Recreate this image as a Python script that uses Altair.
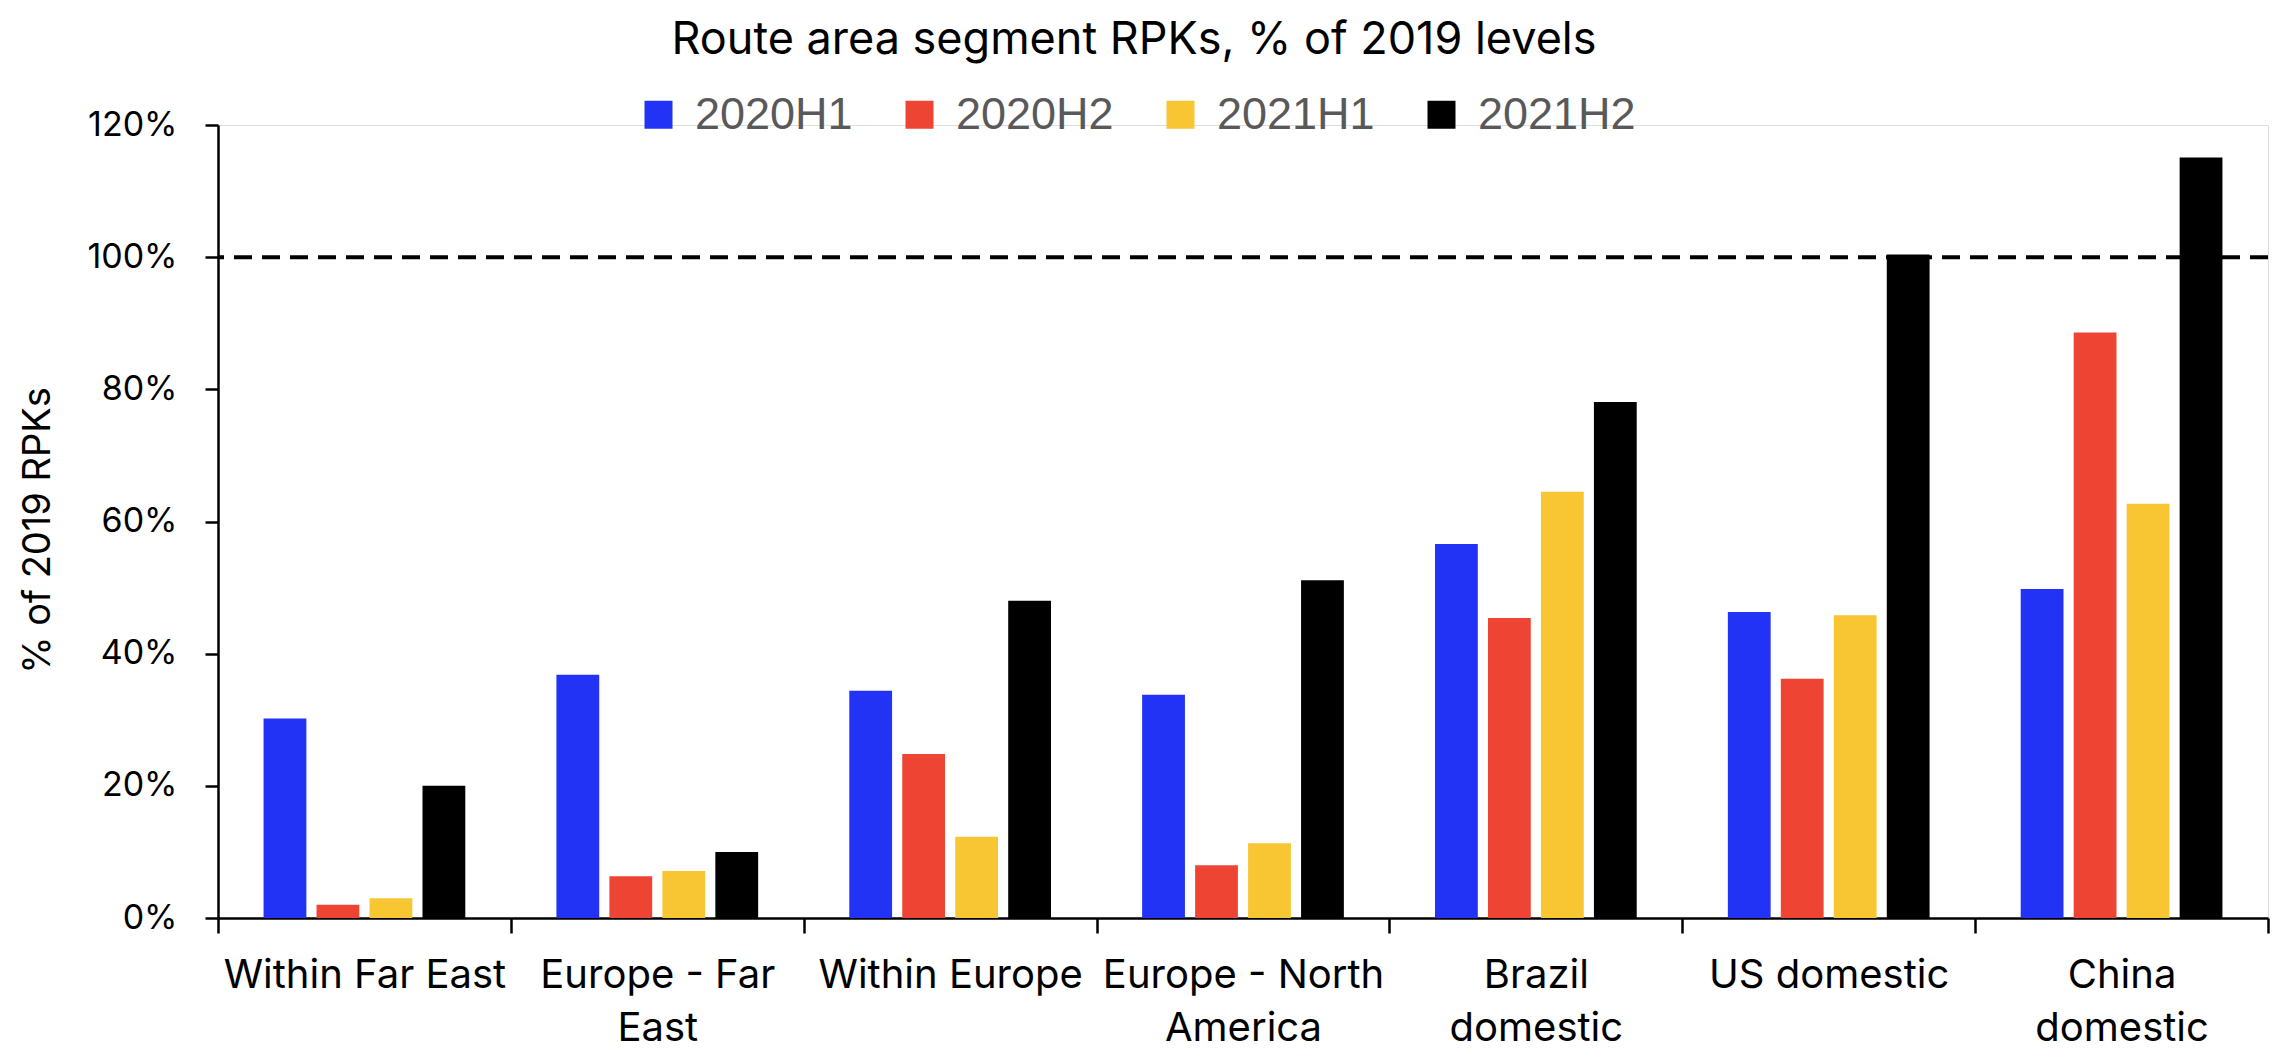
import altair as alt
import pandas as pd

categories = ["Within Far East", "Europe - Far East", "Within Europe",
              "Europe - North America", "Brazil domestic", "US domestic",
              "China domestic"]
wrapped = {
    "Europe - Far East": ["Europe - Far", "East"],
    "Europe - North America": ["Europe - North", "America"],
    "Brazil domestic": ["Brazil", "domestic"],
    "China domestic": ["China", "domestic"],
}
series = ["2020H1", "2020H2", "2021H1", "2021H2"]
colors = ["#2233F5", "#EE4433", "#F8C533", "#000000"]

v_2020H1 = [30.2, 36.8, 34.4, 33.8, 56.6, 46.3, 49.8]
v_2020H2 = [2.0, 6.3, 24.8, 8.0, 45.4, 36.2, 88.6]
v_2021H1 = [3.0, 7.1, 12.3, 11.3, 64.5, 45.8, 62.7]
v_2021H2 = [20.0, 10.0, 48.0, 51.1, 78.1, 100.4, 115.1]
reference_level = [100]
y_ticks = [0, 20, 40, 60, 80, 100, 120]

rows = []
for s, vals in zip(series, [v_2020H1, v_2020H2, v_2021H1, v_2021H2]):
    for c, v in zip(categories, vals):
        rows.append({"route": c, "period": s, "value": v})
df = pd.DataFrame(rows)

label_expr = ""
for k, lines in wrapped.items():
    label_expr += "datum.label == '%s' ? ['%s', '%s'] : " % (k, lines[0], lines[1])
label_expr += "datum.label"

FONT = "Inter"

y_scale = alt.Scale(domain=[0, 120], nice=False)
y_axis = alt.Axis(values=y_ticks, labelExpr="datum.value + '%'",
                  title="% of 2019 RPKs", grid=False,
                  labelFont=FONT, labelFontSize=34, labelColor="black",
                  labelPadding=28, tickSize=13, tickWidth=2.5,
                  tickColor="black", domainColor="black",
                  domainWidth=2.5, titleFont=FONT, titleFontSize=38,
                  titleFontWeight="normal", titleColor="black",
                  titleX=-180, titleY=405, titleAngle=270,
                  titleAlign="center", titleBaseline="middle")

rule = alt.Chart(pd.DataFrame({"value": reference_level})).mark_rule(
    strokeDash=[18, 10], strokeWidth=4, color="black"
).encode(y=alt.Y("value:Q", scale=y_scale, axis=y_axis))

bars = alt.Chart(df).mark_bar().encode(
    x=alt.X("route:N", sort=categories,
            scale=alt.Scale(paddingInner=0, paddingOuter=0),
            axis=alt.Axis(title=None, labelAngle=0, labelExpr=label_expr,
                          tickBand="extent", labelFont=FONT, labelFontSize=40,
                          labelColor="black", labelLineHeight=53, labelPadding=22,
                          labelLimit=400, tickSize=15, tickWidth=2.5,
                          tickColor="black", domainColor="black",
                          domainWidth=2.5)),
    xOffset=alt.XOffset("period:N", sort=series,
                        scale=alt.Scale(paddingInner=0.192, paddingOuter=0.86)),
    y=alt.Y("value:Q", scale=y_scale, axis=y_axis),
    color=alt.Color("period:N", sort=series,
                    scale=alt.Scale(domain=series, range=colors),
                    legend=alt.Legend(orient="none", legendX=418, legendY=-33,
                                      direction="horizontal", title=None,
                                      symbolType="square", symbolSize=784,
                                      symbolStrokeWidth=0, symbolOpacity=1,
                                      labelFont="Liberation Sans",
                                      labelFontSize=45, labelColor="#595959",
                                      labelOffset=14, columnPadding=44,
                                      labelLimit=400)),
)

chart = alt.layer(rule, bars).properties(
    width=2050, height=793,
    autosize=alt.AutoSizeParams(type="none"),
    padding={"left": 210, "top": 117, "right": 2, "bottom": 132},
    title=alt.TitleParams("Route area segment RPKs, % of 2019 levels",
                          font=FONT, fontSize=45, fontWeight="normal",
                          color="black", anchor="middle", dx=-109, offset=29),
).configure_view(strokeWidth=0, stroke="transparent").configure(background="white")

chart.save("out.html", embed_options={"renderer": "svg", "actions": False})
